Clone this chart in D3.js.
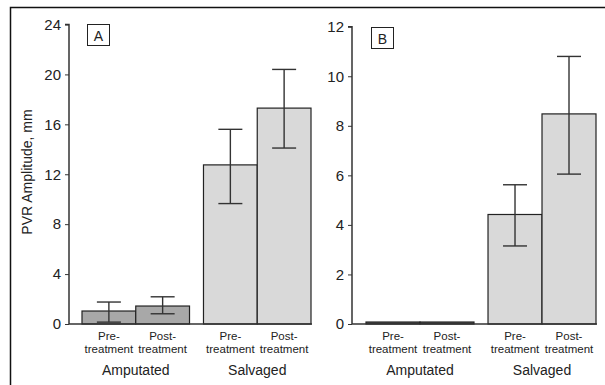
<!DOCTYPE html>
<html>
<head>
<meta charset="utf-8">
<script src="https://cdn.jsdelivr.net/npm/d3@7"></script>
<style>
  body { margin: 0; background: #fff; }
  svg text { font-family: "Liberation Sans", Arial, sans-serif; fill: #222; }
</style>
</head>
<body>
<svg id="chart" width="605" height="385"></svg>
<script>
// groups and the two bars inside each group
var groups = ["Amputated", "Salvaged"];
var phases = ["Pre", "Post"];
var phaseLines = [["Pre-", "treatment"], ["Post-", "treatment"]];

// panel A, PVR amplitude in mm (mean, lower and upper end of error bar)
var meanA = [1.04, 1.44, 12.75, 17.3];
var lowA = [0.15, 0.82, 9.65, 14.1];
var highA = [1.76, 2.18, 15.6, 20.4];
var ticksA = [0, 4, 8, 12, 16, 20, 24];

// panel B
var meanB = [0.08, 0.08, 4.42, 8.48];
var lowB = [null, null, 3.15, 6.05];
var highB = [null, null, 5.62, 10.8];
var ticksB = [0, 2, 4, 6, 8, 10, 12];

var barColors = { "Amputated": "#a8a8a8", "Salvaged": "#d9d9d9" };

var svg = d3.select("#chart");

// outer frame, its right and bottom edges fall outside the picture
svg.append("rect")
    .attr("x", 10.5).attr("y", 7.5)
    .attr("width", 620).attr("height", 400)
    .attr("fill", "none").attr("stroke", "#111").attr("stroke-width", 1.5);

/**
 * Draw one panel: axis, bars, error bars, labels.
 */
function drawPanel(opt) {
    var g = svg.append("g");
    var y = d3.scaleLinear().domain([0, opt.max]).range([324, opt.top]);

    var gx = d3.scaleBand().domain(groups).range([opt.x0, opt.x1]).paddingInner(0.115);
    var px = d3.scaleBand().domain(phases).range([0, gx.bandwidth()]);

    var rows = [];
    groups.forEach(function(grp, gi) {
        phases.forEach(function(ph, pi) {
            var i = gi * 2 + pi;
            rows.push({ group: grp, phase: ph, pi: pi, mean: opt.mean[i], low: opt.low[i], high: opt.high[i] });
        });
    });

    // y axis
    var axis = d3.axisLeft(y).tickValues(opt.ticks).tickSize(4).tickPadding(4).tickFormat(d3.format("d"));
    var ga = g.append("g").attr("transform", "translate(" + opt.axisX + ",0)").call(axis);
    ga.select(".domain").attr("stroke", "#333").attr("stroke-width", 1.5)
        .attr("d", "M-4," + y(opt.max) + "H0V" + y(0));
    ga.selectAll(".tick line").attr("stroke", "#333");
    ga.selectAll(".tick text").style("font-size", "15px").attr("fill", "#222");

    // bars
    g.selectAll("rect.bar").data(rows).enter().append("rect")
        .attr("class", "bar")
        .attr("x", function(d) { return gx(d.group) + px(d.phase); })
        .attr("width", px.bandwidth())
        .attr("y", function(d) { return y(d.mean); })
        .attr("height", function(d) { return y(0) - y(d.mean); })
        .attr("fill", function(d) { return opt.mean[0] < 0.5 && d.group == "Amputated" ? "#555" : barColors[d.group]; })
        .attr("stroke", "#222").attr("stroke-width", 1.2);

    // baseline
    g.append("line")
        .attr("x1", opt.axisX).attr("x2", opt.x1 + 1)
        .attr("y1", y(0)).attr("y2", y(0))
        .attr("stroke", "#333").attr("stroke-width", 1.5);

    // error bars
    var eb = rows.filter(function(d) { return d.low != null; });
    var cx = function(d) { return gx(d.group) + px(d.phase) + px.bandwidth() / 2; };
    var cap = 12;
    var eg = g.selectAll("g.err").data(eb).enter().append("g").attr("class", "err")
        .attr("stroke", "#333").attr("stroke-width", 1.4);
    eg.append("line").attr("x1", cx).attr("x2", cx)
        .attr("y1", function(d) { return y(d.high); }).attr("y2", function(d) { return y(d.low); });
    eg.append("line").attr("x1", function(d) { return cx(d) - cap; }).attr("x2", function(d) { return cx(d) + cap; })
        .attr("y1", function(d) { return y(d.high); }).attr("y2", function(d) { return y(d.high); });
    eg.append("line").attr("x1", function(d) { return cx(d) - cap; }).attr("x2", function(d) { return cx(d) + cap; })
        .attr("y1", function(d) { return y(d.low); }).attr("y2", function(d) { return y(d.low); });

    // category labels, two lines each
    var lab = g.selectAll("text.cat").data(rows).enter().append("text")
        .attr("class", "cat")
        .attr("text-anchor", "middle")
        .style("font-size", "11.5px");
    lab.append("tspan").attr("x", cx).attr("y", 339.5).text(function(d) { return phaseLines[d.pi][0]; });
    lab.append("tspan").attr("x", cx).attr("y", 352.5).text(function(d) { return phaseLines[d.pi][1]; });

    g.selectAll("text.grp").data(groups).enter().append("text")
        .attr("class", "grp")
        .attr("x", function(d) { return gx(d) + gx.bandwidth() / 2; })
        .attr("y", 375)
        .attr("text-anchor", "middle")
        .style("font-size", "14px")
        .text(function(d) { return d; });

    // panel letter
    g.append("rect")
        .attr("x", opt.boxX + 0.5).attr("y", opt.boxY + 0.5)
        .attr("width", 22).attr("height", 21)
        .attr("fill", "#fff").attr("stroke", "#222").attr("stroke-width", 1);
    g.append("text")
        .attr("x", opt.boxX + 11.5).attr("y", opt.boxY + 16.5)
        .attr("text-anchor", "middle")
        .style("font-size", "14px")
        .text(opt.letter);
}

drawPanel({ letter: "A", max: 24, top: 24.5, axisX: 69, x0: 82, x1: 311, boxX: 87, boxY: 24,
            mean: meanA, low: lowA, high: highA, ticks: ticksA });
drawPanel({ letter: "B", max: 12, top: 26.7, axisX: 352, x0: 366, x1: 596, boxX: 371, boxY: 27,
            mean: meanB, low: lowB, high: highB, ticks: ticksB });

// y axis title
svg.append("text")
    .attr("transform", "translate(32,172) rotate(-90)")
    .attr("text-anchor", "middle")
    .style("font-size", "14px")
    .text("PVR Amplitude, mm");
</script>
</body>
</html>
